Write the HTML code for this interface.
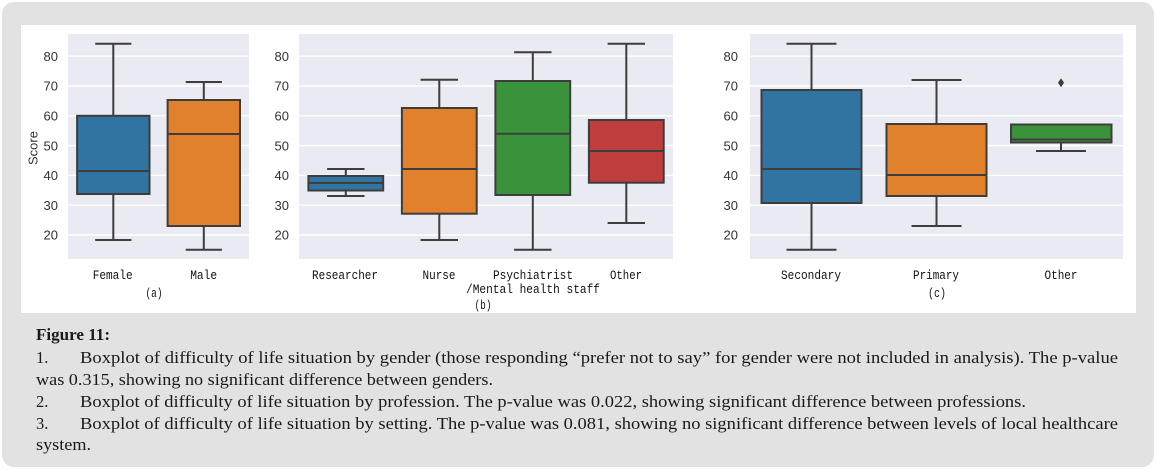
<!DOCTYPE html>
<html>
<head>
<meta charset="utf-8">
<style>
  html,body{margin:0;padding:0;background:#fff;}
  svg{display:block;}
</style>
</head>
<body>
<svg width="1157" height="470" viewBox="0 0 1157 470" xmlns="http://www.w3.org/2000/svg">
  <!-- outer gray panel -->
  <rect x="2" y="2" width="1152" height="465" rx="12" ry="12" fill="#e2e2e2"/>
  <!-- white figure area -->
  <rect x="21" y="25" width="1115" height="288" fill="#ffffff"/>

  <!-- axes backgrounds -->
  <rect x="68" y="34" width="181" height="225" fill="#eaeaf2"/>
  <rect x="299" y="34" width="374" height="225" fill="#eaeaf2"/>
  <rect x="750" y="34" width="373" height="225" fill="#eaeaf2"/>

  <!-- gridlines -->
  <g stroke="#ffffff" stroke-width="1.4">
    <line x1="68" x2="249" y1="56.2" y2="56.2"/><line x1="68" x2="249" y1="86" y2="86"/>
    <line x1="68" x2="249" y1="115.8" y2="115.8"/><line x1="68" x2="249" y1="145.6" y2="145.6"/>
    <line x1="68" x2="249" y1="175.4" y2="175.4"/><line x1="68" x2="249" y1="205.2" y2="205.2"/>
    <line x1="68" x2="249" y1="235" y2="235"/>
    <line x1="299" x2="673" y1="56.2" y2="56.2"/><line x1="299" x2="673" y1="86" y2="86"/>
    <line x1="299" x2="673" y1="115.8" y2="115.8"/><line x1="299" x2="673" y1="145.6" y2="145.6"/>
    <line x1="299" x2="673" y1="175.4" y2="175.4"/><line x1="299" x2="673" y1="205.2" y2="205.2"/>
    <line x1="299" x2="673" y1="235" y2="235"/>
    <line x1="750" x2="1123" y1="56.2" y2="56.2"/><line x1="750" x2="1123" y1="86" y2="86"/>
    <line x1="750" x2="1123" y1="115.8" y2="115.8"/><line x1="750" x2="1123" y1="145.6" y2="145.6"/>
    <line x1="750" x2="1123" y1="175.4" y2="175.4"/><line x1="750" x2="1123" y1="205.2" y2="205.2"/>
    <line x1="750" x2="1123" y1="235" y2="235"/>
  </g>

  <!-- y tick labels -->
  <g font-family="'Liberation Sans', sans-serif" font-size="13" fill="#333" text-anchor="end">
    <text x="58" y="60.9">80</text><text x="58" y="90.7">70</text><text x="58" y="120.5">60</text>
    <text x="58" y="150.3">50</text><text x="58" y="180.1">40</text><text x="58" y="209.9">30</text>
    <text x="58" y="239.7">20</text>
    <text x="289" y="60.9">80</text><text x="289" y="90.7">70</text><text x="289" y="120.5">60</text>
    <text x="289" y="150.3">50</text><text x="289" y="180.1">40</text><text x="289" y="209.9">30</text>
    <text x="289" y="239.7">20</text>
    <text x="738" y="60.9">80</text><text x="738" y="90.7">70</text><text x="738" y="120.5">60</text>
    <text x="738" y="150.3">50</text><text x="738" y="180.1">40</text><text x="738" y="209.9">30</text>
    <text x="738" y="239.7">20</text>
  </g>
  <text x="0" y="0" transform="translate(37.5,148) rotate(-90)" font-family="'Liberation Sans', sans-serif" font-size="13" fill="#333" text-anchor="middle">Score</text>

  <!-- boxes -->
  <g stroke="#3d3d3d" stroke-width="2" fill="none">
    <!-- (a) Female -->
    <line x1="113.3" x2="113.3" y1="115.8" y2="43.7"/><line x1="113.3" x2="113.3" y1="194" y2="240"/>
    <line x1="95.2" x2="131.4" y1="43.7" y2="43.7"/><line x1="95.2" x2="131.4" y1="240" y2="240"/>
    <rect x="77.1" y="115.8" width="72.4" height="78.2" fill="#3274a1"/>
    <line x1="77.1" x2="149.5" y1="171" y2="171"/>
    <!-- (a) Male -->
    <line x1="203.8" x2="203.8" y1="100" y2="82"/><line x1="203.8" x2="203.8" y1="226" y2="249.7"/>
    <line x1="185.7" x2="221.9" y1="82" y2="82"/><line x1="185.7" x2="221.9" y1="249.7" y2="249.7"/>
    <rect x="167.6" y="100" width="72.4" height="126" fill="#e1812c"/>
    <line x1="167.6" x2="240" y1="134" y2="134"/>

    <!-- (b) Researcher -->
    <line x1="345.8" x2="345.8" y1="176" y2="169"/><line x1="345.8" x2="345.8" y1="190.5" y2="196"/>
    <line x1="327.1" x2="364.5" y1="169" y2="169"/><line x1="327.1" x2="364.5" y1="196" y2="196"/>
    <rect x="308.4" y="176" width="74.8" height="14.5" fill="#3274a1"/>
    <line x1="308.4" x2="383.2" y1="183" y2="183"/>
    <!-- Nurse -->
    <line x1="439.3" x2="439.3" y1="108" y2="79.7"/><line x1="439.3" x2="439.3" y1="213.7" y2="240"/>
    <line x1="420.6" x2="458" y1="79.7" y2="79.7"/><line x1="420.6" x2="458" y1="240" y2="240"/>
    <rect x="401.9" y="108" width="74.8" height="105.7" fill="#e1812c"/>
    <line x1="401.9" x2="476.7" y1="169" y2="169"/>
    <!-- Psychiatrist -->
    <line x1="532.8" x2="532.8" y1="81" y2="52.3"/><line x1="532.8" x2="532.8" y1="195" y2="249.7"/>
    <line x1="514.1" x2="551.5" y1="52.3" y2="52.3"/><line x1="514.1" x2="551.5" y1="249.7" y2="249.7"/>
    <rect x="495.4" y="81" width="74.8" height="114" fill="#3a923a"/>
    <line x1="495.4" x2="570.2" y1="133.7" y2="133.7"/>
    <!-- Other -->
    <line x1="626.3" x2="626.3" y1="120" y2="43.7"/><line x1="626.3" x2="626.3" y1="182.7" y2="223"/>
    <line x1="607.6" x2="645" y1="43.7" y2="43.7"/><line x1="607.6" x2="645" y1="223" y2="223"/>
    <rect x="588.9" y="120" width="74.8" height="62.7" fill="#c03d3e"/>
    <line x1="588.9" x2="663.7" y1="151" y2="151"/>

    <!-- (c) Secondary -->
    <line x1="811.5" x2="811.5" y1="90" y2="43.7"/><line x1="811.5" x2="811.5" y1="203" y2="249.7"/>
    <line x1="786.5" x2="836.5" y1="43.7" y2="43.7"/><line x1="786.5" x2="836.5" y1="249.7" y2="249.7"/>
    <rect x="761.5" y="90" width="100" height="113" fill="#3274a1"/>
    <line x1="761.5" x2="861.5" y1="169" y2="169"/>
    <!-- Primary -->
    <line x1="936.5" x2="936.5" y1="124" y2="80"/><line x1="936.5" x2="936.5" y1="196" y2="226"/>
    <line x1="911.5" x2="961.5" y1="80" y2="80"/><line x1="911.5" x2="961.5" y1="226" y2="226"/>
    <rect x="886.5" y="124" width="100" height="72" fill="#e1812c"/>
    <line x1="886.5" x2="986.5" y1="175" y2="175"/>
    <!-- Other -->
    <line x1="1061" x2="1061" y1="142.5" y2="151"/>
    <line x1="1036" x2="1086" y1="151" y2="151"/>
    <rect x="1011" y="124.5" width="100.5" height="18" fill="#3a923a"/>
    <line x1="1011" x2="1111.5" y1="139.5" y2="139.5"/>
  </g>
  <polygon points="1061,78.3 1064,82.8 1061,87.3 1058,82.8" fill="#3d3d3d"/>

  <!-- x tick labels -->
  <g font-family="'Liberation Mono', monospace" font-size="12.5" fill="#111" text-anchor="middle">
    <text x="112.7" y="279" textLength="40" lengthAdjust="spacingAndGlyphs">Female</text>
    <text x="203.7" y="279" textLength="27" lengthAdjust="spacingAndGlyphs">Male</text>
    <text x="154" y="297" textLength="17" lengthAdjust="spacingAndGlyphs">(a)</text>
    <text x="345" y="279" textLength="66" lengthAdjust="spacingAndGlyphs">Researcher</text>
    <text x="439" y="279" textLength="33" lengthAdjust="spacingAndGlyphs">Nurse</text>
    <text x="533" y="279" textLength="80" lengthAdjust="spacingAndGlyphs">Psychiatrist</text>
    <text x="533" y="293" textLength="134" lengthAdjust="spacingAndGlyphs">/Mental health staff</text>
    <text x="483" y="309" textLength="17" lengthAdjust="spacingAndGlyphs">(b)</text>
    <text x="626" y="279" textLength="32" lengthAdjust="spacingAndGlyphs">Other</text>
    <text x="811" y="279" textLength="60" lengthAdjust="spacingAndGlyphs">Secondary</text>
    <text x="936" y="279" textLength="46" lengthAdjust="spacingAndGlyphs">Primary</text>
    <text x="1061" y="279" textLength="33" lengthAdjust="spacingAndGlyphs">Other</text>
    <text x="937" y="297" textLength="18" lengthAdjust="spacingAndGlyphs">(c)</text>
  </g>

  <!-- caption -->
  <g font-family="'Liberation Serif', serif" font-size="16.5" fill="#1a1a1a">
    <text x="36" y="340" font-weight="bold" textLength="74" lengthAdjust="spacingAndGlyphs">Figure 11:</text>
    <text x="36" y="363">1.</text>
    <text x="80" y="363" textLength="1038" lengthAdjust="spacingAndGlyphs">Boxplot of difficulty of life situation by gender (those responding “prefer not to say” for gender were not included in analysis). The p-value</text>
    <text x="36" y="385" textLength="457" lengthAdjust="spacingAndGlyphs">was 0.315, showing no significant difference between genders.</text>
    <text x="36" y="407">2.</text>
    <text x="80" y="407" textLength="946" lengthAdjust="spacingAndGlyphs">Boxplot of difficulty of life situation by profession. The p-value was 0.022, showing significant difference between professions.</text>
    <text x="36" y="429">3.</text>
    <text x="80" y="429" textLength="1038" lengthAdjust="spacingAndGlyphs">Boxplot of difficulty of life situation by setting. The p-value was 0.081, showing no significant difference between levels of local healthcare</text>
    <text x="36" y="450" textLength="55" lengthAdjust="spacingAndGlyphs">system.</text>
  </g>
</svg>
</body>
</html>
